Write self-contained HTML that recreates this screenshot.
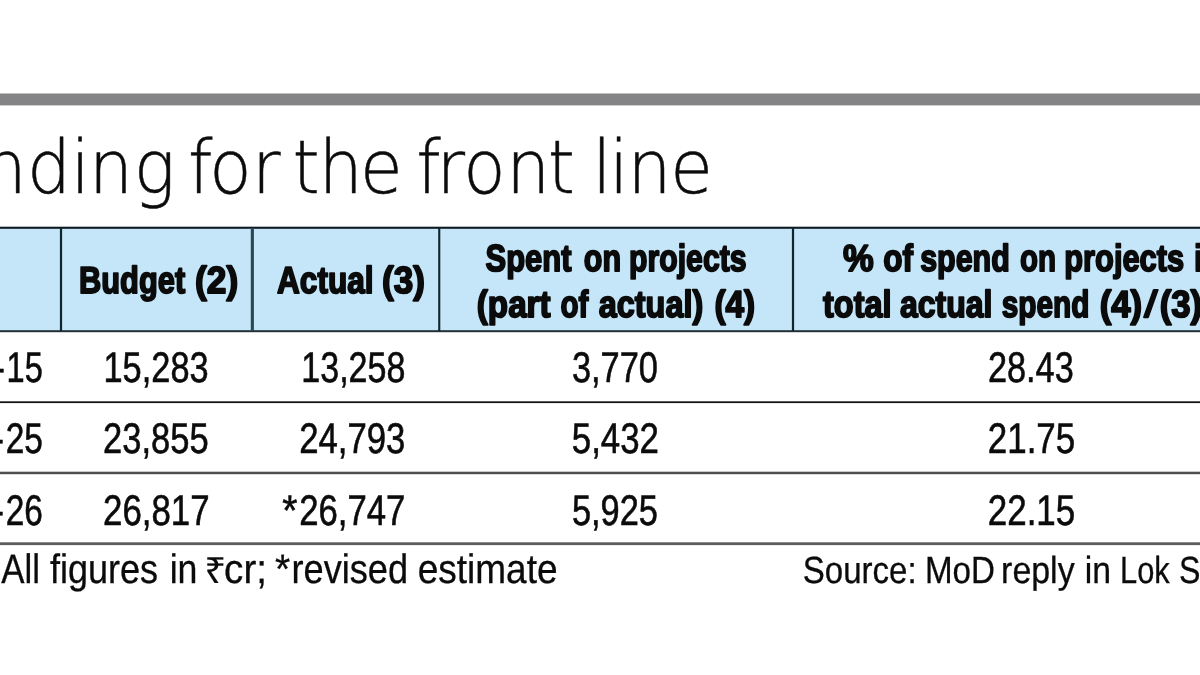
<!DOCTYPE html>
<html lang="en">
<head>
<meta charset="utf-8">
<title>Funding for the front line</title>
<style>
html,body{margin:0;padding:0;background:#fff;}
body{width:1200px;height:675px;overflow:hidden;position:relative;}
svg{display:block;position:absolute;left:0;top:0;will-change:transform;}
text{font-family:"Liberation Sans",sans-serif;fill:#0b0b0c;text-rendering:geometricPrecision;}
.title{font-family:"DejaVu Sans Light","DejaVu Sans","Liberation Sans",sans-serif;font-weight:200;}
.hd{font-weight:bold;}
</style>
</head>
<body>
<svg width="1200" height="675" viewBox="0 0 1200 675">
  <rect x="0" y="0" width="1200" height="675" fill="#ffffff"/>
  <!-- top grey rule -->
  <rect x="0" y="93.5" width="1200" height="11.9" fill="#848487"/>
  <!-- title -->
  <text class="title" fill="#111" stroke="#111" stroke-width="0.5" transform="scale(0.937,1)" y="192.5" font-size="74" x="-112.2 -71.1 -18.3 28.7 75.4 95.0 142.7 183.4 200.6 223.4 268.9 299.7 312.3 340.1 384.3 425.9 444.2 465.8 494.5 540.4 584.5 612.0 632.2 650.3 669.6 715.3">Funding for the front line</text>
  <!-- header band -->
  <rect x="0" y="227" width="1200" height="104.5" fill="#c5e6f8"/>
  <g fill="#10242c">
    <rect x="0" y="226.7" width="1200" height="2.1" fill="#0e1b22"/>
    <rect x="0" y="330.2" width="1200" height="2" fill="#222f36"/>
    <rect x="59.9" y="228" width="2.2" height="103"/>
    <rect x="250.8" y="228" width="3.1" height="103" fill="#2b4653"/>
    <rect x="438.2" y="228" width="2.1" height="103"/>
    <rect x="791.9" y="228" width="2.2" height="103"/>
  </g>
  <!-- row rules -->
  <rect x="0" y="401.3" width="1200" height="1.8" fill="#161618"/>
  <rect x="0" y="471.7" width="1200" height="2.5" fill="#4e4e50"/>
  <rect x="0" y="542.3" width="1200" height="2.8" fill="#5c5c5e"/>
  <!-- header labels -->
  <g class="hd" font-size="37.6" stroke="#0b0b0c" stroke-width="1.9" stroke-linejoin="round">
    <text y="293"><tspan x="-130.0" textLength="67.7" lengthAdjust="spacingAndGlyphs">Year</tspan> <tspan x="-53.1" textLength="42.2" lengthAdjust="spacingAndGlyphs">(1)</tspan></text>
    <text y="293"><tspan x="79.0" textLength="106.2" lengthAdjust="spacingAndGlyphs">Budget</tspan> <tspan x="195.1" textLength="43.1" lengthAdjust="spacingAndGlyphs">(2)</tspan></text>
    <text y="293"><tspan x="277.0" textLength="96.6" lengthAdjust="spacingAndGlyphs">Actual</tspan> <tspan x="382.1" textLength="42.9" lengthAdjust="spacingAndGlyphs">(3)</tspan></text>
    <text y="271"><tspan x="485.6" textLength="85.9" lengthAdjust="spacingAndGlyphs">Spent</tspan> <tspan x="583.8" textLength="37.2" lengthAdjust="spacingAndGlyphs">on</tspan> <tspan x="629.1" textLength="117.4" lengthAdjust="spacingAndGlyphs">projects</tspan></text>
    <text y="317"><tspan x="476.8" textLength="73.8" lengthAdjust="spacingAndGlyphs">(part</tspan> <tspan x="560.4" textLength="27.9" lengthAdjust="spacingAndGlyphs">of</tspan> <tspan x="598.8" textLength="104.4" lengthAdjust="spacingAndGlyphs">actual)</tspan> <tspan x="714.4" textLength="40.8" lengthAdjust="spacingAndGlyphs">(4)</tspan></text>
    <text y="271"><tspan x="843.0" textLength="30.7" lengthAdjust="spacingAndGlyphs">%</tspan> <tspan x="883.2" textLength="29.8" lengthAdjust="spacingAndGlyphs">of</tspan> <tspan x="920.2" textLength="89.6" lengthAdjust="spacingAndGlyphs">spend</tspan> <tspan x="1020.0" textLength="36.0" lengthAdjust="spacingAndGlyphs">on</tspan> <tspan x="1064.2" textLength="120.0" lengthAdjust="spacingAndGlyphs">projects</tspan> <tspan x="1194.0" textLength="28.5" lengthAdjust="spacingAndGlyphs">in</tspan></text>
    <text y="317"><tspan x="823.0" textLength="68.5" lengthAdjust="spacingAndGlyphs">total</tspan> <tspan x="900.0" textLength="92.5" lengthAdjust="spacingAndGlyphs">actual</tspan> <tspan x="1001.8" textLength="87.6" lengthAdjust="spacingAndGlyphs">spend</tspan> <tspan x="1099.7" textLength="42.5" lengthAdjust="spacingAndGlyphs">(4)</tspan><tspan x="1143.9" textLength="13.7" lengthAdjust="spacingAndGlyphs" font-weight="normal" stroke-width="1.6">/</tspan><tspan x="1159.7" textLength="42.5" lengthAdjust="spacingAndGlyphs">(3)</tspan></text>
  </g>
  <!-- data -->
  <g font-size="42.9" stroke="#0b0b0c" stroke-width="0.6">
    <text y="382"><tspan x="-83.2" textLength="88.1" lengthAdjust="spacingAndGlyphs">2014-</tspan><tspan x="6.6" textLength="36.2" lengthAdjust="spacingAndGlyphs">15</tspan></text>
    <text y="382"><tspan x="103.5" textLength="105.1" lengthAdjust="spacingAndGlyphs">15,283</tspan></text>
    <text y="382"><tspan x="301.3" textLength="104.1" lengthAdjust="spacingAndGlyphs">13,258</tspan></text>
    <text y="382"><tspan x="571.9" textLength="86.1" lengthAdjust="spacingAndGlyphs">3,770</tspan></text>
    <text y="382"><tspan x="987.9" textLength="85.9" lengthAdjust="spacingAndGlyphs">28.43</tspan></text>
    <text y="453"><tspan x="-84.2" textLength="88.1" lengthAdjust="spacingAndGlyphs">2024-</tspan><tspan x="5.7" textLength="37.2" lengthAdjust="spacingAndGlyphs">25</tspan></text>
    <text y="453"><tspan x="103.1" textLength="105.6" lengthAdjust="spacingAndGlyphs">23,855</tspan></text>
    <text y="453"><tspan x="299.2" textLength="106.2" lengthAdjust="spacingAndGlyphs">24,793</tspan></text>
    <text y="453"><tspan x="571.8" textLength="87.2" lengthAdjust="spacingAndGlyphs">5,432</tspan></text>
    <text y="453"><tspan x="987.8" textLength="87.4" lengthAdjust="spacingAndGlyphs">21.75</tspan></text>
    <text y="525"><tspan x="-84.2" textLength="88.1" lengthAdjust="spacingAndGlyphs">2025-</tspan><tspan x="5.7" textLength="37.2" lengthAdjust="spacingAndGlyphs">26</tspan></text>
    <text y="525"><tspan x="103.0" textLength="106.6" lengthAdjust="spacingAndGlyphs">26,817</tspan></text>
    <text y="525"><tspan x="282.2" textLength="15.2" lengthAdjust="spacingAndGlyphs">*</tspan><tspan x="299.2" textLength="106.2" lengthAdjust="spacingAndGlyphs">26,747</tspan></text>
    <text y="525"><tspan x="571.9" textLength="86.1" lengthAdjust="spacingAndGlyphs">5,925</tspan></text>
    <text y="525"><tspan x="987.8" textLength="87.4" lengthAdjust="spacingAndGlyphs">22.15</tspan></text>
  </g>
  <!-- footer -->
  <g font-size="41.2" stroke="#0b0b0c" stroke-width="0.3">
    <text y="583"><tspan x="1.2" textLength="38.7" lengthAdjust="spacingAndGlyphs">All</tspan> <tspan x="50.0" textLength="108.1" lengthAdjust="spacingAndGlyphs">figures</tspan> <tspan x="169.7" textLength="27.8" lengthAdjust="spacingAndGlyphs">in</tspan> <tspan x="204.3" textLength="22.1" lengthAdjust="spacingAndGlyphs" font-size="36" stroke-width="0.1">₹</tspan><tspan x="224.1" textLength="42.9" lengthAdjust="spacingAndGlyphs">cr;</tspan> <tspan x="274.9" textLength="15.2" lengthAdjust="spacingAndGlyphs">*</tspan><tspan x="291.5" textLength="116.6" lengthAdjust="spacingAndGlyphs">revised</tspan> <tspan x="417.7" textLength="139.9" lengthAdjust="spacingAndGlyphs">estimate</tspan></text>
  </g>
  <!-- source -->
  <g font-size="37.8" stroke="#0b0b0c" stroke-width="0.3">
    <text y="583"><tspan x="802.8" textLength="113.8" lengthAdjust="spacingAndGlyphs">Source:</tspan> <tspan x="924.9" textLength="70.0" lengthAdjust="spacingAndGlyphs">MoD</tspan> <tspan x="1001.1" textLength="73.5" lengthAdjust="spacingAndGlyphs">reply</tspan> <tspan x="1084.7" textLength="26.3" lengthAdjust="spacingAndGlyphs">in</tspan> <tspan x="1120.1" textLength="49.7" lengthAdjust="spacingAndGlyphs">Lok</tspan> <tspan x="1179.0" textLength="92.9" lengthAdjust="spacingAndGlyphs">Sabha</tspan></text>
  </g>
</svg>
</body>
</html>
